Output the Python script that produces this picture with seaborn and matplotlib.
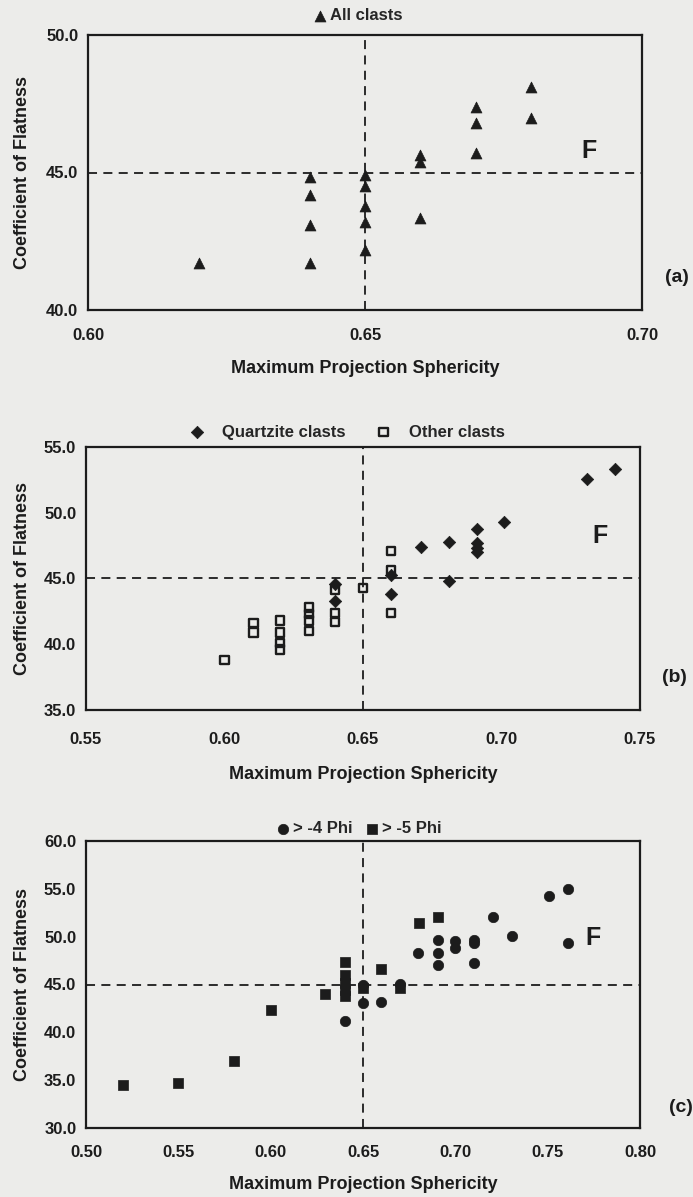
import pandas as pd
import matplotlib
matplotlib.use('Agg')
import matplotlib.pyplot as plt
import seaborn as sns

# Panel (a): all clasts
a_sph = [0.620, 0.640, 0.640, 0.640, 0.640, 0.650, 0.650, 0.650, 0.650, 0.650,
         0.660, 0.660, 0.660, 0.670, 0.670, 0.670, 0.680, 0.680]
a_flat = [41.7, 44.85, 44.2, 43.1, 41.7, 44.9, 44.5, 43.8, 43.2, 42.2,
          45.65, 45.4, 43.35, 47.4, 46.8, 45.7, 48.1, 47.0]

# Panel (b): quartzite clasts
bq_sph = [0.640, 0.640, 0.660, 0.660, 0.671, 0.681, 0.681, 0.691, 0.691, 0.691,
          0.691, 0.701, 0.731, 0.741]
bq_flat = [44.6, 43.3, 45.3, 43.85, 47.4, 47.8, 44.8, 48.8, 47.7, 47.3,
           47.0, 49.3, 52.6, 53.3]

# Panel (b): other clasts
bo_sph = [0.600, 0.6105, 0.6105, 0.620, 0.620, 0.620, 0.620, 0.6305, 0.6305, 0.6305,
          0.6305, 0.640, 0.640, 0.640, 0.650, 0.660, 0.660, 0.660]
bo_flat = [38.8, 41.6, 40.9, 41.8, 40.9, 40.1, 39.6, 42.8, 42.3, 41.8,
           41.0, 44.15, 42.4, 41.7, 44.3, 47.1, 45.65, 42.4]

# Panel (c): > -4 phi
c4_sph = [0.640, 0.650, 0.650, 0.660, 0.670, 0.680, 0.6905, 0.6905, 0.6905, 0.700,
          0.700, 0.710, 0.710, 0.710, 0.7205, 0.7305, 0.7505, 0.761, 0.761]
c4_flat = [41.2, 45.0, 43.1, 43.2, 45.1, 48.25, 49.6, 48.25, 47.05, 49.5,
           48.8, 49.7, 49.3, 47.2, 52.1, 50.05, 54.2, 55.0, 49.3]

# Panel (c): > -5 phi
c5_sph = [0.520, 0.550, 0.580, 0.600, 0.6295, 0.640, 0.640, 0.640, 0.640, 0.640,
          0.650, 0.660, 0.670, 0.6805, 0.6905]
c5_flat = [34.5, 34.7, 37.0, 42.3, 44.0, 47.3, 46.0, 45.2, 44.4, 43.8,
           44.6, 46.6, 44.6, 51.4, 52.1]

df_a = pd.DataFrame({'sph': a_sph, 'flat': a_flat})
df_bq = pd.DataFrame({'sph': bq_sph, 'flat': bq_flat})
df_bo = pd.DataFrame({'sph': bo_sph, 'flat': bo_flat})
df_c4 = pd.DataFrame({'sph': c4_sph, 'flat': c4_flat})
df_c5 = pd.DataFrame({'sph': c5_sph, 'flat': c5_flat})

sns.set_style('white')
plt.rcParams['font.family'] = ['Liberation Sans', 'DejaVu Sans']
plt.rcParams['font.weight'] = 'bold'

paper = '#ececea'
ink = '#1c1c1c'
W, H = 693, 1197
fig = plt.figure(figsize=(W / 100, H / 100), dpi=100, facecolor=paper)


def px_axes(left, right, top, bottom):
    return fig.add_axes([left / W, 1 - bottom / H, (right - left) / W, (bottom - top) / H])


def style_axes(ax, xlim, ylim, xticks, yticks, xpad, xlab_y, left_px):
    ax.set_facecolor(paper)
    ax.set_xlim(*xlim)
    ax.set_ylim(*ylim)
    ax.set_xticks(xticks)
    ax.set_xticklabels([f'{t:.2f}' for t in xticks])
    ax.set_yticks(yticks)
    ax.set_yticklabels([f'{t:.1f}' for t in yticks])
    for s in ax.spines.values():
        s.set_linewidth(1.6)
        s.set_color(ink)
    ax.tick_params(axis='both', direction='inout', length=8, width=1.4, colors=ink,
                   labelsize=12)
    ax.tick_params(axis='x', pad=xpad)
    ax.tick_params(axis='y', pad=3)
    ax.axhline(45, color=ink, lw=1.3, ls=(0, (5, 3.5)), zorder=1)
    ax.axvline(0.65, color=ink, lw=1.3, ls=(0, (5, 3.5)), zorder=1)
    ax.set_xlabel('Maximum Projection Sphericity', fontsize=13, fontweight='bold', color=ink)
    ax.set_ylabel('Coefficient of Flatness', fontsize=13, fontweight='bold', color=ink)
    ax.xaxis.set_label_coords(0.5, xlab_y)
    ax.yaxis.set_label_coords((31 - left_px) / 554, 0.5)


# (a)
ax_a = px_axes(88, 642, 35, 310)
sns.scatterplot(data=df_a, x='sph', y='flat', marker='^', s=62, color=ink,
                edgecolor=ink, linewidth=0.5, label='All clasts', ax=ax_a, zorder=3)
style_axes(ax_a, (0.60, 0.70), (40, 50), [0.60, 0.65, 0.70], [40, 45, 50], 9, -0.182, 88)
ax_a.text(0.6905, 45.8, 'F', fontsize=18, fontweight='bold', ha='center', va='center', color=ink)
ax_a.text(1.063, 0.12, '(a)', transform=ax_a.transAxes, fontsize=14, fontweight='bold',
          ha='center', va='center', color=ink)
ax_a.legend(loc='center', bbox_to_anchor=(0.485, 1.07), frameon=False, fontsize=12,
            handletextpad=0.0, handlelength=1.2, borderaxespad=0)

# (b)
ax_b = px_axes(86, 640, 447, 710)
sns.scatterplot(data=df_bq, x='sph', y='flat', marker='D', s=40, color=ink,
                edgecolor=ink, linewidth=0.5, label='Quartzite clasts', ax=ax_b, zorder=4)
sns.scatterplot(data=df_bo, x='sph', y='flat', marker='s', s=36, facecolor='none',
                edgecolor=ink, linewidth=1.7, label='Other clasts', ax=ax_b, zorder=3)
style_axes(ax_b, (0.55, 0.75), (35, 55), [0.55, 0.60, 0.65, 0.70, 0.75],
           [35, 40, 45, 50, 55], 12, -0.213, 86)
ax_b.text(0.7355, 48.2, 'F', fontsize=18, fontweight='bold', ha='center', va='center', color=ink)
ax_b.text(1.063, 0.122, '(b)', transform=ax_b.transAxes, fontsize=14, fontweight='bold',
          ha='center', va='center', color=ink)
ax_b.legend(loc='center', bbox_to_anchor=(0.47, 1.057), frameon=False, fontsize=12, ncol=2,
            handletextpad=1.0, columnspacing=1.8, handlelength=1.0, borderaxespad=0)

# (c)
ax_c = px_axes(86, 640, 841, 1128)
sns.scatterplot(data=df_c5, x='sph', y='flat', marker='s', s=50, color=ink,
                edgecolor=ink, linewidth=0.5, label='> -5 Phi', ax=ax_c, zorder=3)
sns.scatterplot(data=df_c4, x='sph', y='flat', marker='o', s=56, color=ink,
                edgecolor=ink, linewidth=0.5, label='> -4 Phi', ax=ax_c, zorder=4)
style_axes(ax_c, (0.50, 0.80), (30, 60), [0.50, 0.55, 0.60, 0.65, 0.70, 0.75, 0.80],
           [30, 35, 40, 45, 50, 55, 60], 8, -0.167, 86)
ax_c.text(0.7747, 49.9, 'F', fontsize=18, fontweight='bold', ha='center', va='center', color=ink)
ax_c.text(1.074, 0.07, '(c)', transform=ax_c.transAxes, fontsize=14, fontweight='bold',
          ha='center', va='center', color=ink)
h, l = ax_c.get_legend_handles_labels()
ax_c.legend(h[::-1], l[::-1], loc='center', bbox_to_anchor=(0.49, 1.042), frameon=False,
            fontsize=12, ncol=2, handletextpad=0.0, columnspacing=0.6, handlelength=1.2,
            borderaxespad=0)

fig.savefig('out.png', dpi=100, facecolor=paper)
